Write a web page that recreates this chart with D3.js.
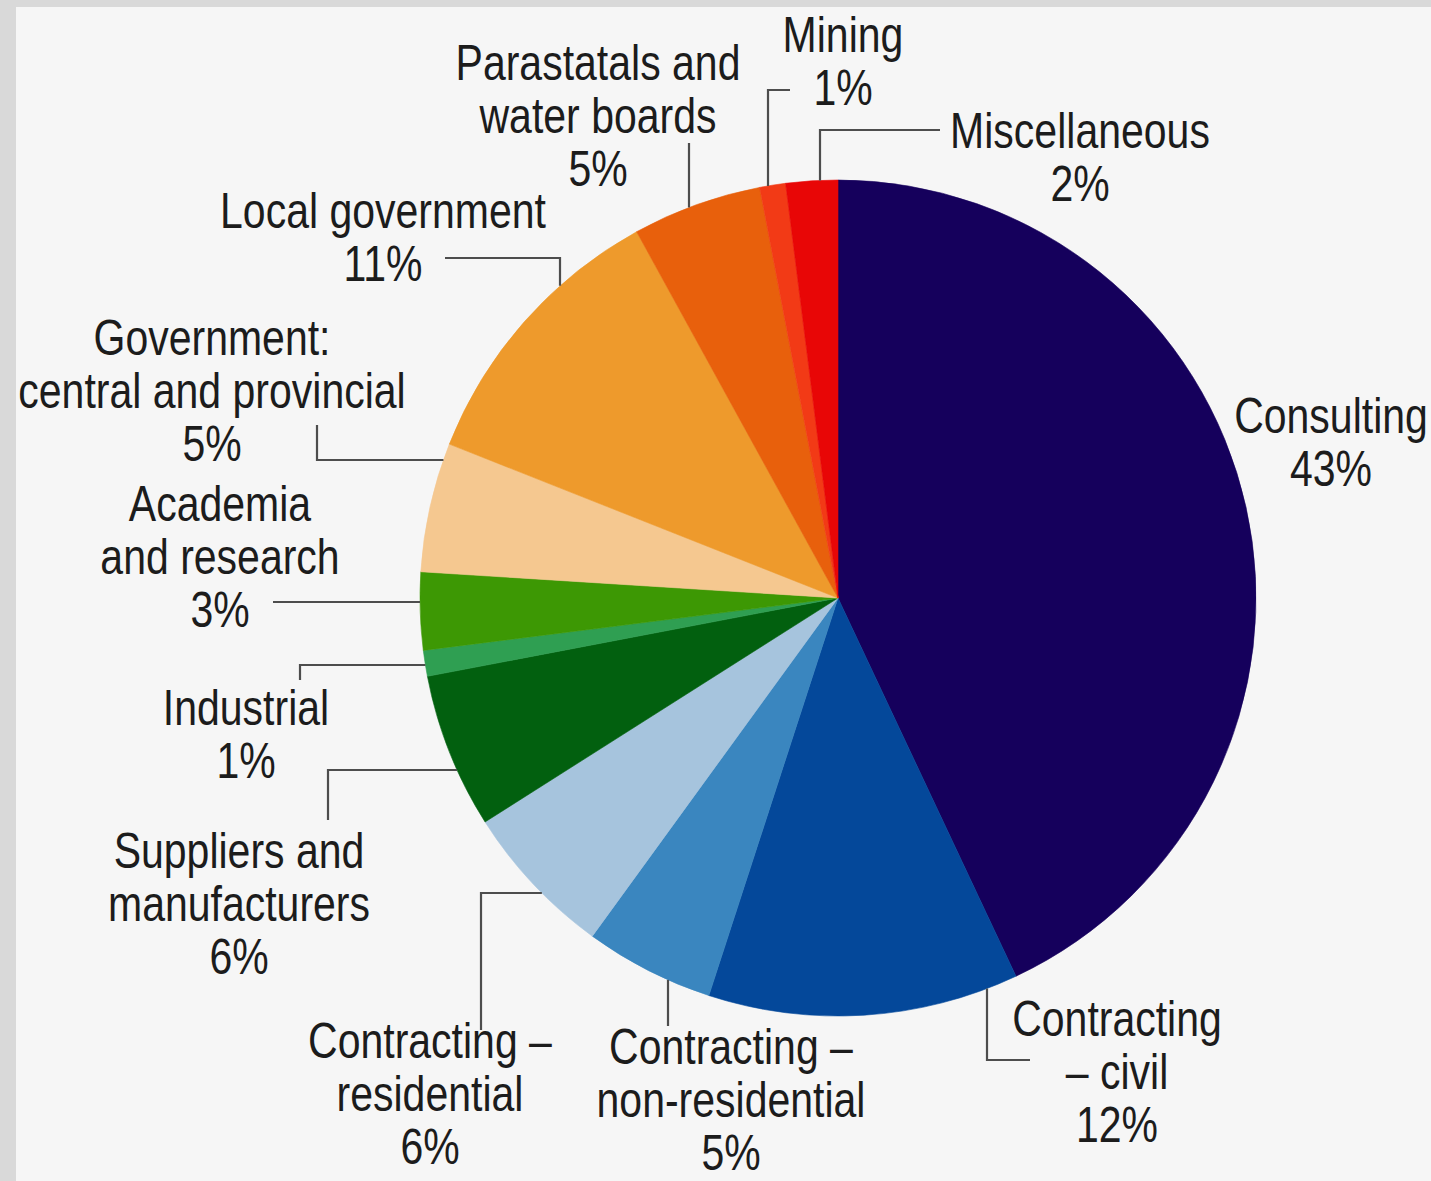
<!DOCTYPE html>
<html>
<head>
<meta charset="utf-8">
<script src="https://cdn.jsdelivr.net/npm/d3@7"></script>
<style>
  html, body { margin: 0; padding: 0; background: #dcdcdc; }
  svg { display: block; }
  text { font-family: 'Liberation Sans', Arial, sans-serif; }
</style>
</head>
<body>
<svg id="chart" width="1431" height="1181"></svg>
<script>
// Sectors, clockwise from twelve o'clock
const categories = [
  "Consulting", "Contracting – civil", "Contracting – non-residential",
  "Contracting – residential", "Suppliers and manufacturers", "Industrial",
  "Academia and research", "Government: central and provincial",
  "Local government", "Parastatals and water boards", "Mining", "Miscellaneous"
];
const shares = [43, 12, 5, 6, 6, 1, 3, 5, 11, 5, 1, 2];
const labelLines = [
  ["Consulting"], ["Contracting", "– civil"], ["Contracting –", "non-residential"],
  ["Contracting –", "residential"], ["Suppliers and", "manufacturers"], ["Industrial"],
  ["Academia", "and research"], ["Government:", "central and provincial"],
  ["Local government"], ["Parastatals and", "water boards"], ["Mining"], ["Miscellaneous"]
];
const sliceColors = [
  "#15005c", "#04489a", "#3a86bf", "#a6c4dd", "#02600f", "#2f9f52",
  "#3d9804", "#f5c890", "#ee9a2c", "#e8600c", "#f23a16", "#e80606"
];

// Label placement: text centre x, first baseline; leader polyline ending on the rim
const labelLayout = [
  { x: 1331, y: 433, leader: null },
  { x: 1117, y: 1036, leader: { pts: [[1030, 1060], [987, 1060]], end: "v" } },
  { x: 731, y: 1064, leader: { pts: [[668, 1026]], end: "v" } },
  { x: 430, y: 1058, leader: { pts: [[481, 1030], [481, 893]], end: "h" } },
  { x: 239, y: 868, leader: { pts: [[328, 820], [328, 770]], end: "h" } },
  { x: 246, y: 725, leader: { pts: [[300, 680], [300, 665]], end: "h" } },
  { x: 220, y: 521, leader: { pts: [[273, 602]], end: "h" } },
  { x: 212, y: 355, leader: { pts: [[317, 425], [317, 460]], end: "h" } },
  { x: 383, y: 228, leader: { pts: [[445, 258], [560, 258]], end: "v" } },
  { x: 598, y: 80, leader: { pts: [[689, 143]], end: "v" } },
  { x: 843, y: 52, leader: { pts: [[790, 90], [768, 90]], end: "v" } },
  { x: 1080, y: 148, leader: { pts: [[940, 130], [820, 130]], end: "v" } }
];

const W = 1431, H = 1181;
const cx = 838, cy = 598, R = 418;
const lineGap = 53;
const fontSize = 50;
const condense = 0.82;   // horizontal squeeze for a condensed face

const svg = d3.select("#chart");

// backdrop and light panel
svg.append("rect").attr("width", W).attr("height", H).attr("fill", "#d9d9d9");
svg.append("rect").attr("x", 16).attr("y", 7).attr("width", W - 16).attr("height", H - 7)
  .attr("fill", "#f6f6f6");

const pie = d3.pie().sort(null).value(d => d).startAngle(0).endAngle(2 * Math.PI);
const arc = d3.arc().innerRadius(0).outerRadius(R);

const g = svg.append("g").attr("transform", `translate(${cx},${cy})`);
g.selectAll("path.slice")
  .data(pie(shares))
  .join("path")
  .attr("class", "slice")
  .attr("d", arc)
  .attr("fill", (d, i) => sliceColors[i])
  .attr("stroke", (d, i) => sliceColors[i])
  .attr("stroke-width", 0.6);

// leader lines: given points, then a straight run to the pie rim
function rimPoint(last, end) {
  const [x, y] = last;
  if (end === "v") {
    const s = y < cy ? -1 : 1;
    return [x, cy + s * Math.sqrt(R * R - (x - cx) * (x - cx))];
  }
  const s = x < cx ? -1 : 1;
  return [cx + s * Math.sqrt(R * R - (y - cy) * (y - cy)), y];
}

const line = d3.line();
labelLayout.forEach((L, i) => {
  if (!L.leader) return;
  const pts = L.leader.pts.slice();
  pts.push(rimPoint(pts[pts.length - 1], L.leader.end));
  svg.append("path")
    .attr("d", line(pts))
    .attr("fill", "none")
    .attr("stroke", "#4d4d4d")
    .attr("stroke-width", 2.2);
});

// labels: category lines followed by the share
labelLayout.forEach((L, i) => {
  const lines = labelLines[i].concat([`${shares[i]}%`]);
  const t = svg.append("g")
    .attr("transform", `translate(${L.x},0) scale(${condense},1)`)
    .append("text")
    .attr("x", 0).attr("y", L.y)
    .attr("text-anchor", "middle")
    .attr("font-size", fontSize)
    .attr("fill", "#1c1c1c");
  lines.forEach((s, k) => {
    t.append("tspan").attr("x", 0).attr("y", L.y + k * lineGap).text(s);
  });
});
</script>
</body>
</html>
